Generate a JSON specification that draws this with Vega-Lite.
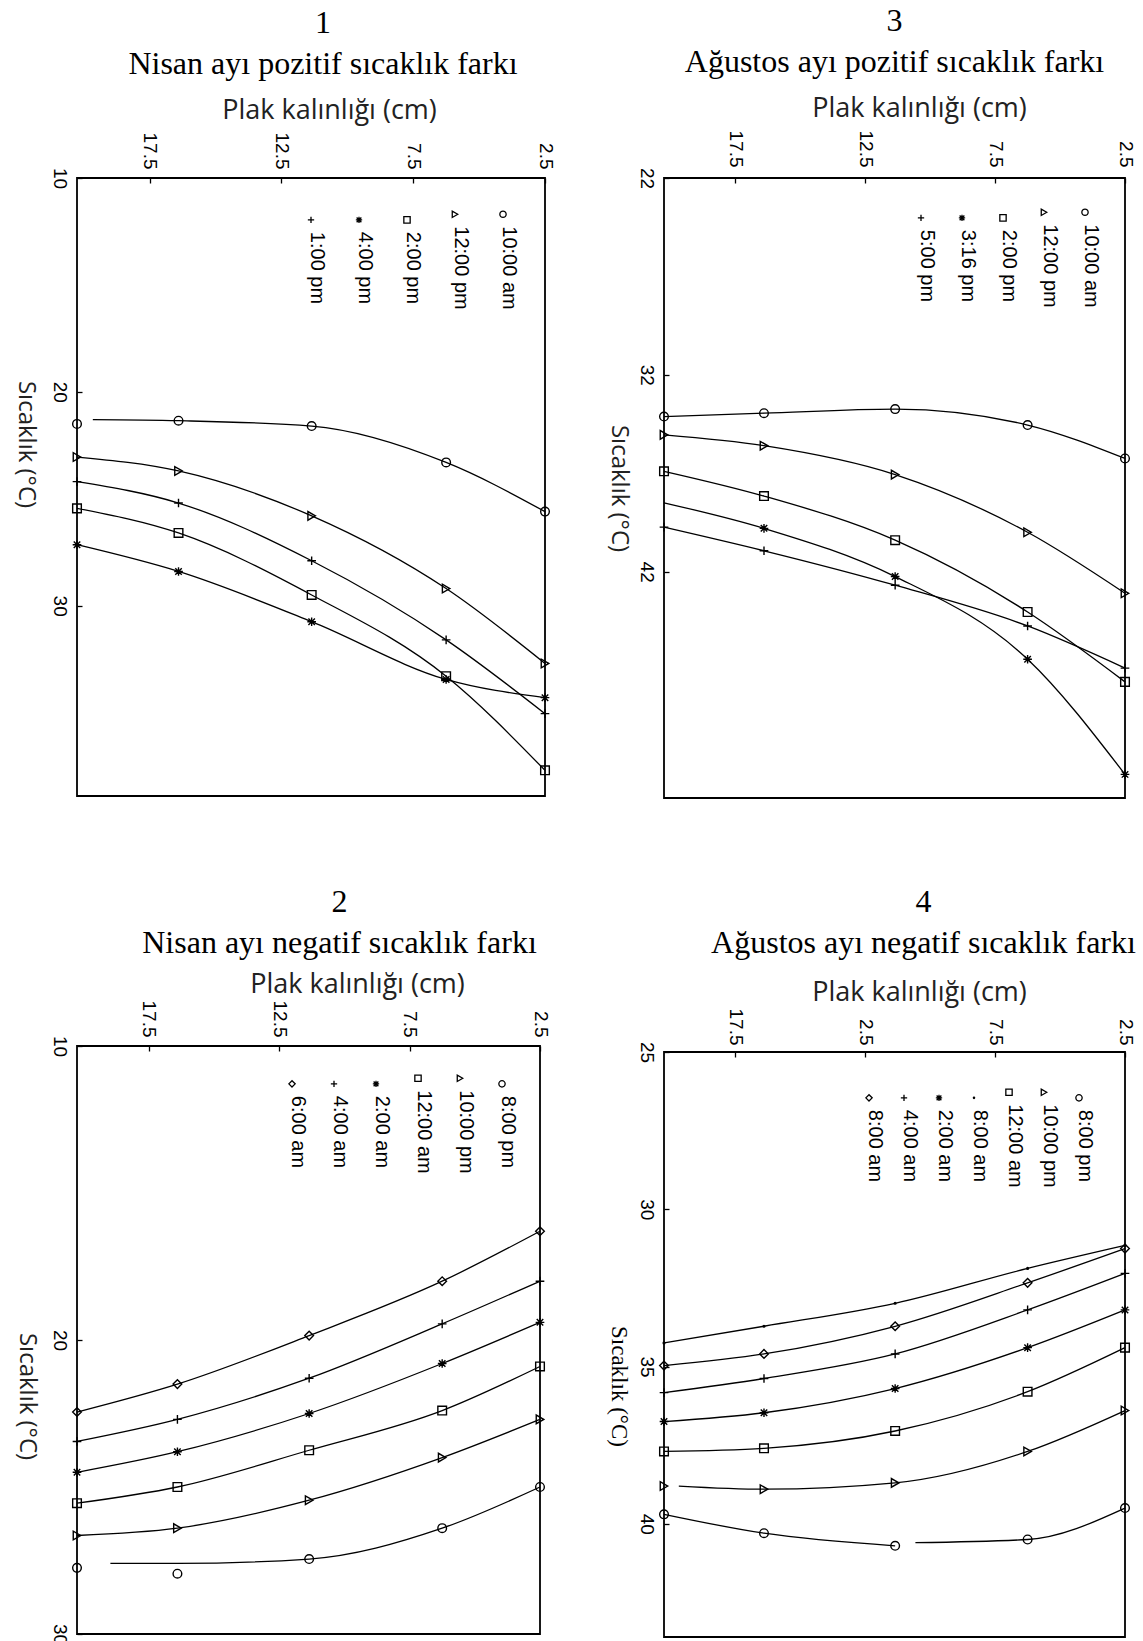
{
  "$schema": "https://vega.github.io/schema/vega-lite/v6.json",
  "padding": {"left": 12, "top": 4, "right": 5, "bottom": 2},
  "columns": 2,
  "align": "none",
  "spacing": {"column": 50, "row": 86},
  "resolve": {"scale": {"shape": "independent", "x": "independent", "y": "independent"}, "legend": {"shape": "independent"}},
  "config": {
    "view": {"stroke": "black", "strokeWidth": 1.8},
    "axis": {"grid": false, "domain": false, "tickColor": "black", "labelColor": "black", "tickSize": -5, "tickWidth": 1.3, "labelPadding": 14, "labelFont": "Liberation Sans", "labelFontSize": 19, "titleFont": "Open Sans", "titleFontSize": 27, "titleFontWeight": "normal", "titleColor": "#222"},
    "title": {"font": "Liberation Serif", "fontSize": 32, "fontWeight": "normal", "lineHeight": 41, "anchor": "middle", "offset": 15, "color": "black"},
    "legend": {"orient": "top-right", "direction": "horizontal", "offset": 26, "padding": 0, "columnPadding": 21, "labelFont": "Liberation Sans", "labelFontSize": 20, "labelColor": "black", "labelOffset": -4, "symbolSize": 40, "symbolStrokeWidth": 1.3, "symbolStrokeColor": "black", "title": null}
  },
  "concat": [
    {
      "width": 468, "height": 618,
      "title": {"text": ["1", "Nisan ayı pozitif sıcaklık farkı"], "dx": 12},
      "data": {"values": [
        {"s": "10:00 am", "x": 20.25, "y": 21.5, "l": 0},
        {"s": "10:00 am", "x": 19.65, "y": 21.3, "m": 0},
        {"s": "10:00 am", "x": 16.4, "y": 21.35},
        {"s": "10:00 am", "x": 11.35, "y": 21.6},
        {"s": "10:00 am", "x": 6.25, "y": 23.3},
        {"s": "10:00 am", "x": 2.5, "y": 25.6},
        {"s": "12:00 pm", "x": 20.25, "y": 23.05},
        {"s": "12:00 pm", "x": 16.4, "y": 23.7},
        {"s": "12:00 pm", "x": 11.35, "y": 25.8},
        {"s": "12:00 pm", "x": 6.25, "y": 29.2},
        {"s": "12:00 pm", "x": 2.5, "y": 32.7},
        {"s": "2:00 pm", "x": 20.25, "y": 25.45},
        {"s": "2:00 pm", "x": 16.4, "y": 26.6},
        {"s": "2:00 pm", "x": 11.35, "y": 29.5},
        {"s": "2:00 pm", "x": 6.25, "y": 33.3},
        {"s": "2:00 pm", "x": 2.5, "y": 37.7},
        {"s": "4:00 pm", "x": 20.25, "y": 27.15},
        {"s": "4:00 pm", "x": 16.4, "y": 28.4},
        {"s": "4:00 pm", "x": 11.35, "y": 30.75},
        {"s": "4:00 pm", "x": 6.25, "y": 33.45},
        {"s": "4:00 pm", "x": 2.5, "y": 34.3},
        {"s": "1:00 pm", "x": 20.25, "y": 24.2},
        {"s": "1:00 pm", "x": 16.4, "y": 25.2},
        {"s": "1:00 pm", "x": 11.35, "y": 27.9},
        {"s": "1:00 pm", "x": 6.25, "y": 31.6},
        {"s": "1:00 pm", "x": 2.5, "y": 35.05}
      ]},
      "encoding": {
        "x": {"field": "x", "type": "quantitative", "scale": {"domain": [2.5, 20.25], "reverse": true, "nice": false, "zero": false},
          "axis": {"orient": "top", "values": [2.5, 7.5, 12.5, 17.5], "format": ".1f", "labelAngle": 90, "title": "Plak kalınlığı (cm)", "titlePadding": 8, "titleX": 252}},
        "y": {"field": "y", "type": "quantitative", "scale": {"domain": [10, 38.9], "reverse": true, "nice": false, "zero": false},
          "axis": {"values": [10, 20, 30], "labelAngle": 90, "title": "Sıcaklık (°C)", "titleAngle": 90, "titleFontSize": 24, "titlePadding": 36, "titleY": 266}}
      },
      "layer": [
        {"transform": [{"filter": "datum.l !== 0"}], "mark": {"type": "line", "interpolate": "monotone", "color": "black", "strokeWidth": 1.3},
          "encoding": {"detail": [{"field": "s"}, {"field": "g"}]}},
        {"transform": [{"filter": "datum.m !== 0"}], "mark": {"type": "point", "filled": false, "color": "black", "strokeWidth": 1.4, "size": 75, "opacity": 1},
          "encoding": {"shape": {"field": "s", "type": "nominal",
            "scale": {"domain": ["1:00 pm", "4:00 pm", "2:00 pm", "12:00 pm", "10:00 am"],
              "range": ["M-1,0L1,0M0,-1L0,1", "M-1,0L1,0M0,-1L0,1M-0.75,-0.75L0.75,0.75M-0.75,0.75L0.75,-0.75", "square", "triangle-right", "circle"]},
            "legend": {"offset": 26, "columnPadding": 21, "encoding": {"labels": {"angle": {"value": 90}, "dx": {"value": 12}}}}}}}
      ]
    },
    {
      "width": 461, "height": 620,
      "title": {"text": ["3", "Ağustos ayı pozitif sıcaklık farkı"]},
      "data": {"values": [
        {"s": "10:00 am", "x": 20.25, "y": 34.12},
        {"s": "10:00 am", "x": 16.4, "y": 33.95},
        {"s": "10:00 am", "x": 11.35, "y": 33.74},
        {"s": "10:00 am", "x": 6.25, "y": 34.55},
        {"s": "10:00 am", "x": 2.5, "y": 36.25},
        {"s": "12:00 pm", "x": 20.25, "y": 35.05},
        {"s": "12:00 pm", "x": 16.4, "y": 35.6},
        {"s": "12:00 pm", "x": 11.35, "y": 37.07},
        {"s": "12:00 pm", "x": 6.25, "y": 40.0},
        {"s": "12:00 pm", "x": 2.5, "y": 43.1},
        {"s": "2:00 pm", "x": 20.25, "y": 36.9},
        {"s": "2:00 pm", "x": 16.4, "y": 38.16},
        {"s": "2:00 pm", "x": 11.35, "y": 40.4},
        {"s": "2:00 pm", "x": 6.25, "y": 44.05},
        {"s": "2:00 pm", "x": 2.5, "y": 47.6},
        {"s": "3:16 pm", "x": 20.25, "y": 38.5, "m": 0},
        {"s": "3:16 pm", "x": 16.4, "y": 39.8},
        {"s": "3:16 pm", "x": 11.35, "y": 42.25},
        {"s": "3:16 pm", "x": 6.25, "y": 46.45},
        {"s": "3:16 pm", "x": 2.5, "y": 52.3},
        {"s": "5:00 pm", "x": 20.25, "y": 39.74},
        {"s": "5:00 pm", "x": 16.4, "y": 40.94},
        {"s": "5:00 pm", "x": 11.35, "y": 42.69},
        {"s": "5:00 pm", "x": 6.25, "y": 44.76},
        {"s": "5:00 pm", "x": 2.5, "y": 46.9}
      ]},
      "encoding": {
        "x": {"field": "x", "type": "quantitative", "scale": {"domain": [2.5, 20.25], "reverse": true, "nice": false, "zero": false},
          "axis": {"orient": "top", "values": [2.5, 7.5, 12.5, 17.5], "format": ".1f", "labelAngle": 90, "labelPadding": 16, "title": "Plak kalınlığı (cm)", "titlePadding": 8, "titleX": 255}},
        "y": {"field": "y", "type": "quantitative", "scale": {"domain": [22, 53.5], "reverse": true, "nice": false, "zero": false},
          "axis": {"values": [22, 32, 42], "labelAngle": 90, "title": "Sıcaklık (°C)", "titleAngle": 90, "titleFontSize": 24, "titlePadding": 30}}
      },
      "layer": [
        {"transform": [{"filter": "datum.l !== 0"}], "mark": {"type": "line", "interpolate": "monotone", "color": "black", "strokeWidth": 1.3},
          "encoding": {"detail": [{"field": "s"}, {"field": "g"}]}},
        {"transform": [{"filter": "datum.m !== 0"}], "mark": {"type": "point", "filled": false, "color": "black", "strokeWidth": 1.4, "size": 75, "opacity": 1},
          "encoding": {"shape": {"field": "s", "type": "nominal",
            "scale": {"domain": ["5:00 pm", "3:16 pm", "2:00 pm", "12:00 pm", "10:00 am"],
              "range": ["M-1,0L1,0M0,-1L0,1", "M-1,0L1,0M0,-1L0,1M-0.75,-0.75L0.75,0.75M-0.75,0.75L0.75,-0.75", "square", "triangle-right", "circle"]},
            "legend": {"offset": 24, "columnPadding": 14, "encoding": {"labels": {"angle": {"value": 90}, "dx": {"value": 12}}}}}}}
      ]
    },
    {
      "width": 463, "height": 588,
      "title": {"text": ["2", "Nisan ayı negatif sıcaklık farkı"], "dx": 31, "offset": 10},
      "data": {"values": [
        {"s": "8:00 pm", "x": 20.25, "y": 27.75, "l": 0},
        {"s": "8:00 pm", "x": 16.4, "y": 27.95, "l": 0},
        {"s": "8:00 pm", "x": 18.97, "y": 27.6, "m": 0},
        {"s": "8:00 pm", "x": 16.4, "y": 27.6, "m": 0},
        {"s": "8:00 pm", "x": 11.35, "y": 27.45},
        {"s": "8:00 pm", "x": 6.25, "y": 26.4},
        {"s": "8:00 pm", "x": 2.5, "y": 25.0},
        {"s": "10:00 pm", "x": 20.25, "y": 26.65},
        {"s": "10:00 pm", "x": 16.4, "y": 26.4},
        {"s": "10:00 pm", "x": 11.35, "y": 25.45},
        {"s": "10:00 pm", "x": 6.25, "y": 24.0},
        {"s": "10:00 pm", "x": 2.5, "y": 22.7},
        {"s": "12:00 am", "x": 20.25, "y": 25.55},
        {"s": "12:00 am", "x": 16.4, "y": 25.0},
        {"s": "12:00 am", "x": 11.35, "y": 23.75},
        {"s": "12:00 am", "x": 6.25, "y": 22.4},
        {"s": "12:00 am", "x": 2.5, "y": 20.9},
        {"s": "2:00 am", "x": 20.25, "y": 24.5},
        {"s": "2:00 am", "x": 16.4, "y": 23.8},
        {"s": "2:00 am", "x": 11.35, "y": 22.5},
        {"s": "2:00 am", "x": 6.25, "y": 20.8},
        {"s": "2:00 am", "x": 2.5, "y": 19.4},
        {"s": "4:00 am", "x": 20.25, "y": 23.45},
        {"s": "4:00 am", "x": 16.4, "y": 22.7},
        {"s": "4:00 am", "x": 11.35, "y": 21.3},
        {"s": "4:00 am", "x": 6.25, "y": 19.45},
        {"s": "4:00 am", "x": 2.5, "y": 18.0},
        {"s": "6:00 am", "x": 20.25, "y": 22.45},
        {"s": "6:00 am", "x": 16.4, "y": 21.5},
        {"s": "6:00 am", "x": 11.35, "y": 19.85},
        {"s": "6:00 am", "x": 6.25, "y": 18.0},
        {"s": "6:00 am", "x": 2.5, "y": 16.3}
      ]},
      "encoding": {
        "x": {"field": "x", "type": "quantitative", "scale": {"domain": [2.5, 20.25], "reverse": true, "nice": false, "zero": false},
          "axis": {"orient": "top", "values": [2.5, 7.5, 12.5, 17.5], "format": ".1f", "labelAngle": 90, "title": "Plak kalınlığı (cm)", "titlePadding": 2, "titleX": 280}},
        "y": {"field": "y", "type": "quantitative", "scale": {"domain": [10, 30], "reverse": true, "nice": false, "zero": false},
          "axis": {"values": [10, 20, 30], "labelAngle": 90, "title": "Sıcaklık (°C)", "titleAngle": 90, "titleFontSize": 24, "titlePadding": 35, "titleY": 350}}
      },
      "layer": [
        {"transform": [{"filter": "datum.l !== 0"}], "mark": {"type": "line", "interpolate": "monotone", "color": "black", "strokeWidth": 1.3},
          "encoding": {"detail": [{"field": "s"}, {"field": "g"}]}},
        {"transform": [{"filter": "datum.m !== 0"}], "mark": {"type": "point", "filled": false, "color": "black", "strokeWidth": 1.4, "size": 75, "opacity": 1},
          "encoding": {"shape": {"field": "s", "type": "nominal",
            "scale": {"domain": ["6:00 am", "4:00 am", "2:00 am", "12:00 am", "10:00 pm", "8:00 pm"],
              "range": ["diamond", "M-1,0L1,0M0,-1L0,1", "M-1,0L1,0M0,-1L0,1M-0.75,-0.75L0.75,0.75M-0.75,0.75L0.75,-0.75", "square", "triangle-right", "circle"]},
            "legend": {"offset": 22, "columnPadding": 15, "encoding": {"labels": {"angle": {"value": 90}, "dx": {"value": 12}}}}}}}
      ]
    },
    {
      "width": 461, "height": 585,
      "title": {"text": ["4", "Ağustos ayı negatif sıcaklık farkı"], "dx": 29, "offset": 18},
      "data": {"values": [
        {"s": "8:00 pm", "x": 20.25, "y": 39.7},
        {"s": "8:00 pm", "x": 16.4, "y": 40.3},
        {"s": "8:00 pm", "x": 11.35, "y": 40.7},
        {"s": "8:00 pm", "x": 10.57, "y": 40.6, "m": 0, "g": 2},
        {"s": "8:00 pm", "x": 6.25, "y": 40.5, "g": 2},
        {"s": "8:00 pm", "x": 2.5, "y": 39.5, "g": 2},
        {"s": "10:00 pm", "x": 20.25, "y": 38.8, "l": 0},
        {"s": "10:00 pm", "x": 19.68, "y": 38.8, "m": 0},
        {"s": "10:00 pm", "x": 16.4, "y": 38.9},
        {"s": "10:00 pm", "x": 11.35, "y": 38.7},
        {"s": "10:00 pm", "x": 6.25, "y": 37.7},
        {"s": "10:00 pm", "x": 2.5, "y": 36.4},
        {"s": "12:00 am", "x": 20.25, "y": 37.7},
        {"s": "12:00 am", "x": 16.4, "y": 37.6},
        {"s": "12:00 am", "x": 11.35, "y": 37.05},
        {"s": "12:00 am", "x": 6.25, "y": 35.8},
        {"s": "12:00 am", "x": 2.5, "y": 34.4},
        {"s": "8:00 am", "x": 20.25, "y": 34.25},
        {"s": "8:00 am", "x": 16.4, "y": 33.72},
        {"s": "8:00 am", "x": 11.35, "y": 32.99},
        {"s": "8:00 am", "x": 6.25, "y": 31.88},
        {"s": "8:00 am", "x": 2.5, "y": 31.15},
        {"s": "2:00 am", "x": 20.25, "y": 36.75},
        {"s": "2:00 am", "x": 16.4, "y": 36.47},
        {"s": "2:00 am", "x": 11.35, "y": 35.7},
        {"s": "2:00 am", "x": 6.25, "y": 34.4},
        {"s": "2:00 am", "x": 2.5, "y": 33.2},
        {"s": "4:00 am", "x": 20.25, "y": 35.83},
        {"s": "4:00 am", "x": 16.4, "y": 35.38},
        {"s": "4:00 am", "x": 11.35, "y": 34.6},
        {"s": "4:00 am", "x": 6.25, "y": 33.2},
        {"s": "4:00 am", "x": 2.5, "y": 32.04},
        {"s": "6:00 am", "x": 20.25, "y": 34.97},
        {"s": "6:00 am", "x": 16.4, "y": 34.6},
        {"s": "6:00 am", "x": 11.35, "y": 33.72},
        {"s": "6:00 am", "x": 6.25, "y": 32.34},
        {"s": "6:00 am", "x": 2.5, "y": 31.25}
      ]},
      "encoding": {
        "x": {"field": "x", "type": "quantitative", "scale": {"domain": [2.5, 20.25], "reverse": true, "nice": false, "zero": false},
          "axis": {"orient": "top", "values": [2.5, 7.5, 12.5, 17.5], "labelExpr": "datum.value == 12.5 ? '2.5' : format(datum.value, '.1f')", "labelAngle": 90, "labelPadding": 12, "title": "Plak kalınlığı (cm)", "titlePadding": 2, "titleX": 255}},
        "y": {"field": "y", "type": "quantitative", "scale": {"domain": [25, 43.6], "reverse": true, "nice": false, "zero": false},
          "axis": {"values": [25, 30, 35, 40], "labelAngle": 90, "title": "Sıcaklık (°C)", "titleAngle": 90, "titleFont": "Liberation Serif", "titleFontSize": 23, "titleColor": "black", "titlePadding": 30, "titleY": 334}}
      },
      "layer": [
        {"transform": [{"filter": "datum.l !== 0"}], "mark": {"type": "line", "interpolate": "monotone", "color": "black", "strokeWidth": 1.3},
          "encoding": {"detail": [{"field": "s"}, {"field": "g"}]}},
        {"transform": [{"filter": "datum.m !== 0"}], "mark": {"type": "point", "filled": false, "color": "black", "strokeWidth": 1.4, "size": 75, "opacity": 1},
          "encoding": {"shape": {"field": "s", "type": "nominal",
            "scale": {"domain": ["6:00 am", "4:00 am", "2:00 am", "8:00 am", "12:00 am", "10:00 pm", "8:00 pm"],
              "range": ["diamond", "M-1,0L1,0M0,-1L0,1", "M-1,0L1,0M0,-1L0,1M-0.75,-0.75L0.75,0.75M-0.75,0.75L0.75,-0.75", "M-0.2,0A0.2,0.2 0 1,0 0.2,0A0.2,0.2 0 1,0 -0.2,0Z", "square", "triangle-right", "circle"]},
            "legend": {"offset": 30, "columnPadding": 8, "labelExpr": "datum.label == '6:00 am' ? '8:00 am' : datum.label", "encoding": {"labels": {"angle": {"value": 90}, "dx": {"value": 12}}}}}}}
      ]
    }
  ]
}
